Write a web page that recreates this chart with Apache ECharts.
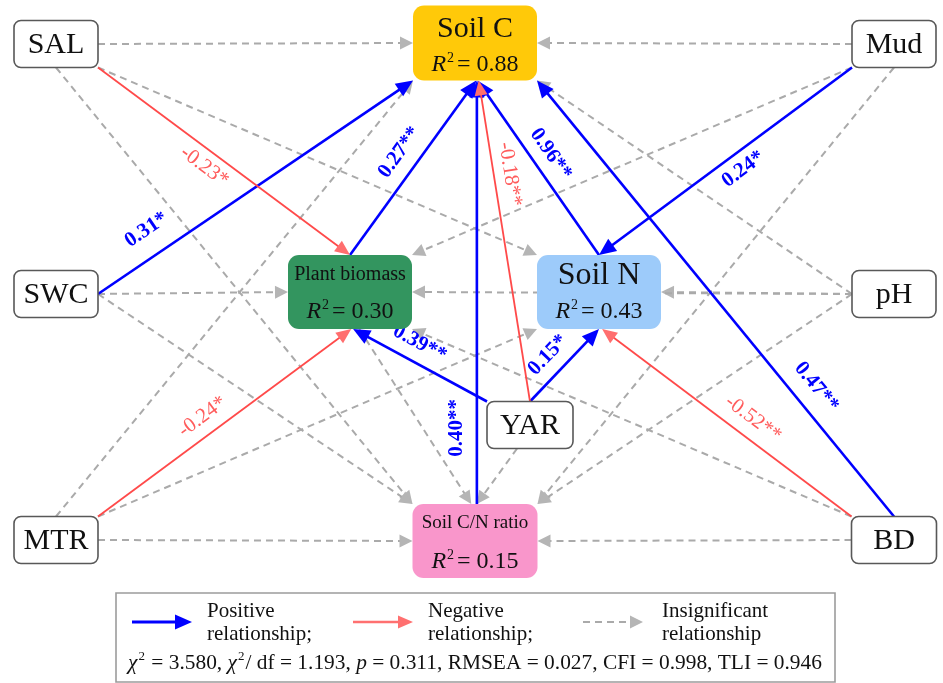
<!DOCTYPE html>
<html>
<head>
<meta charset="utf-8">
<script src="https://cdn.jsdelivr.net/npm/echarts@6/dist/echarts.min.js"></script>
<style>
  html, body { margin: 0; padding: 0; background: #ffffff; }
  #chart { width: 943px; height: 683px; }
</style>
</head>
<body>
<div id="chart"></div>
<script>
// ---- Path model data -------------------------------------------------------
// Observed drivers and response variables
const drivers = ['SAL', 'SWC', 'MTR', 'Mud', 'pH', 'BD', 'YAR'];
const responses = ['Soil C', 'Plant biomass', 'Soil N', 'Soil C/N ratio'];
const responseR2 = [0.88, 0.30, 0.43, 0.15];

// Paths: source, target, standardized coefficient (null = insignificant), stars
const pathFrom = [
  'SAL', 'Mud', 'SAL', 'SAL', 'SWC', 'SWC', 'MTR', 'MTR', 'MTR', 'Mud',
  'Mud', 'pH', 'pH', 'pH', 'pH', 'BD', 'BD', 'YAR', 'Plant biomass',
  'SWC', 'Plant biomass', 'Soil C/N ratio', 'Soil N', 'Mud', 'BD',
  'YAR', 'YAR', 'SAL', 'YAR', 'MTR', 'BD'
];
const pathTo = [
  'Soil C', 'Soil C', 'Soil N', 'Soil C/N ratio', 'Plant biomass', 'Soil C/N ratio',
  'Soil C/N ratio', 'Soil C', 'Soil N', 'Plant biomass', 'Soil C/N ratio', 'Soil N',
  'Plant biomass', 'Soil C', 'Soil C/N ratio', 'Soil C/N ratio', 'Plant biomass',
  'Soil C/N ratio', 'Soil C/N ratio',
  'Soil C', 'Soil C', 'Soil C', 'Soil C', 'Soil N', 'Soil C',
  'Plant biomass', 'Soil N', 'Plant biomass', 'Soil C', 'Plant biomass', 'Soil N'
];
const pathCoef = [
  null, null, null, null, null, null, null, null, null, null,
  null, null, null, null, null, null, null, null, null,
  0.31, 0.27, 0.40, 0.96, 0.24, 0.47,
  0.39, 0.15, -0.23, -0.18, -0.24, -0.52
];
const pathStars = [
  '', '', '', '', '', '', '', '', '', '',
  '', '', '', '', '', '', '', '', '',
  '*', '**', '**', '**', '*', '**',
  '**', '*', '*', '**', '*', '**'
];

// Model fit statistics
const fitNames = ['χ2', 'χ2/ df', 'p', 'RMSEA', 'CFI', 'TLI'];
const fitValues = ['3.580', '1.193', '0.311', '0.027', '0.998', '0.946'];

// Legend entries
const legendKinds = ['pos', 'neg', 'ns'];
const legendLines = [
  ['Positive', 'relationship;'],
  ['Negative', 'relationship;'],
  ['Insignificant', 'relationship']
];

// ---- Layout & styles --------------------------------------------------------
const SERIF = '"Liberation Serif", "Times New Roman", Times, serif';

// Box centres and sizes in diagram units
const nodeBoxes = {
  'SAL': { x: 56, y: 44, w: 84, h: 47 },
  'Mud': { x: 894, y: 44, w: 84, h: 47 },
  'SWC': { x: 56, y: 294, w: 84, h: 47 },
  'pH': { x: 894, y: 294, w: 84, h: 47 },
  'MTR': { x: 56, y: 540, w: 84, h: 47 },
  'BD': { x: 894, y: 540, w: 85, h: 47 },
  'YAR': { x: 530, y: 425, w: 86, h: 47 },
  'Soil C': { x: 475, y: 43, w: 124, h: 75 },
  'Plant biomass': { x: 350, y: 292, w: 124, h: 74 },
  'Soil N': { x: 599, y: 292, w: 124, h: 74 },
  'Soil C/N ratio': { x: 475, y: 541, w: 125, h: 74 }
};

const responseStyle = {
  'Soil C': { fill: '#FFC909', titleSize: 30, titleDy: -14, r2Dy: 22 },
  'Plant biomass': { fill: '#33955F', titleSize: 20, titleDy: -17, r2Dy: 20 },
  'Soil N': { fill: '#9DCBFA', titleSize: 32, titleDy: -16, r2Dy: 20 },
  'Soil C/N ratio': { fill: '#F996CB', titleSize: 19, titleDy: -18, r2Dy: 21 }
};

// Attachment points on each box: [source, target] as fractions of half-size
const pathAnchors = [
  [[1, 0], [-1, 0]], [[-1, 0], [1, 0]], [[1, 1], [-1, -1]], [[0, 1], [-1, -1]],
  [[1, 0], [-1, 0]], [[1, 0], [-1, -1]], [[1, 0], [-1, 0]], [[0, -1], [-1, 1]],
  [[1, -1], [-1, 1]], [[-1, 1], [1, -1]], [[0, 1], [1, -1]], [[-1, 0], [1, 0]],
  [[-1, 0], [1, 0]], [[-1, 0], [1, 1]], [[-1, 0], [1, -1]], [[-1, 0], [1, 0]],
  [[-1, -1], [1, 1]], [[-0.3, 1], [0.03, -1]], [[0.15, 1], [-0.06, -1]],
  [[1, 0], [-1, 1]], [[0, -1], [0.02, 1]], [[0.03, -1], [0.03, 1]], [[0, -1], [0.04, 1]],
  [[-1, 1], [0, -1]], [[0, -1], [1, 1]], [[-1, -1], [0.05, 1]], [[0, -1], [0, 1]],
  [[1, 1], [0, -1]], [[0, -1], [0.06, 1]], [[1, -1], [0.02, 1]], [[-1, -1], [0.05, 1]]
];

// Coefficient label placement: [fraction along path from source, normal offset px]
const labelPlacement = {
  19: [0.2, -26], 20: [0.52, -20], 21: [0.18, -20], 22: [0.52, -18],
  23: [0.47, 17], 24: [0.265, -22], 25: [0.57, -19], 26: [0.46, -19],
  27: [0.46, 16], 28: [0.70, -16], 29: [0.455, -18], 30: [0.44, -19]
};

const pathStyle = {
  pos: { color: '#0000FF', head: '#0000FF', width: 2.6, dash: null, headLen: 17, headW: 7.5,
         label: '#0000FF', weight: 'bold' },
  neg: { color: '#FF4A4A', head: '#FF6E6E', width: 1.8, dash: null, headLen: 15, headW: 6.5,
         label: '#FF5C5C', weight: 'normal' },
  ns:  { color: '#AAAAAA', head: '#B5B5B5', width: 2, dash: [7, 5], headLen: 13, headW: 6.5 }
};

function kindOf(coef) {
  return coef == null ? 'ns' : (coef > 0 ? 'pos' : 'neg');
}

function anchorPoint(name, a) {
  const b = nodeBoxes[name];
  return [b.x + a[0] * b.w / 2, b.y + a[1] * b.h / 2];
}

function arrowShapes(p0, p1, st) {
  const dx = p1[0] - p0[0], dy = p1[1] - p0[1];
  const len = Math.hypot(dx, dy);
  const ux = dx / len, uy = dy / len;
  const bx = p1[0] - ux * st.headLen, by = p1[1] - uy * st.headLen;
  const nx = -uy, ny = ux;
  return [
    {
      type: 'line',
      shape: { x1: p0[0], y1: p0[1], x2: bx + ux * 2, y2: by + uy * 2 },
      style: { stroke: st.color, lineWidth: st.width, lineDash: st.dash || null, fill: null }
    },
    {
      type: 'polygon',
      shape: { points: [[p1[0], p1[1]], [bx + nx * st.headW, by + ny * st.headW], [bx - nx * st.headW, by - ny * st.headW]] },
      style: { fill: st.head }
    }
  ];
}

function renderPath(params, api) {
  const i = params.dataIndex;
  const an = pathAnchors[i];
  const p0 = api.coord(anchorPoint(pathFrom[i], an[0]));
  const p1 = api.coord(anchorPoint(pathTo[i], an[1]));
  const coef = pathCoef[i];
  const st = pathStyle[kindOf(coef)];
  const children = arrowShapes(p0, p1, st);
  if (coef != null) {
    const lp = labelPlacement[i];
    const dx = p1[0] - p0[0], dy = p1[1] - p0[1];
    // keep the label readable: near-vertical paths read bottom-to-top
    let ang = Math.atan2(dy, dx);
    if (ang >= Math.PI / 2 - 0.05) ang -= Math.PI;
    else if (ang < -Math.PI / 2 - 0.05) ang += Math.PI;
    const nx = -Math.sin(ang), ny = Math.cos(ang);
    children.push({
      type: 'text',
      x: p0[0] + dx * lp[0] + nx * lp[1],
      y: p0[1] + dy * lp[0] + ny * lp[1],
      rotation: -ang,
      style: {
        text: coef.toFixed(2) + pathStars[i],
        fill: st.label,
        font: st.weight + ' 21px ' + SERIF,
        align: 'center',
        verticalAlign: 'middle'
      }
    });
  }
  return { type: 'group', children: children };
}

function r2Rich(value, size) {
  const sup = Math.round(size * 0.6);
  return {
    text: '{r|R}{s|2}{v|= ' + value.toFixed(2) + '}',
    rich: {
      r: { font: 'italic ' + size + 'px ' + SERIF, lineHeight: size + 4, fill: '#111' },
      s: { font: sup + 'px ' + SERIF, lineHeight: sup + 2, verticalAlign: 'top', padding: [0, 3, 0, 1], fill: '#111' },
      v: { font: size + 'px ' + SERIF, lineHeight: size + 4, fill: '#111' }
    }
  };
}

const nodeNames = drivers.concat(responses);

function renderNode(params, api) {
  const name = nodeNames[params.dataIndex];
  const b = nodeBoxes[name];
  const c = api.coord([b.x, b.y]);
  const tl = api.coord([b.x - b.w / 2, b.y - b.h / 2]);
  const br = api.coord([b.x + b.w / 2, b.y + b.h / 2]);
  const w = br[0] - tl[0], h = br[1] - tl[1];
  const ri = responses.indexOf(name);
  const children = [];
  if (ri < 0) {
    children.push({
      type: 'rect',
      shape: { x: tl[0], y: tl[1], width: w, height: h, r: 7 },
      style: { fill: '#ffffff', stroke: '#585858', lineWidth: 1.6 }
    });
    children.push({
      type: 'text', x: c[0], y: c[1] + 1,
      style: { text: name, font: '30px ' + SERIF, fill: '#111', align: 'center', verticalAlign: 'middle' }
    });
  } else {
    const rs = responseStyle[name];
    children.push({
      type: 'rect',
      shape: { x: tl[0], y: tl[1], width: w, height: h, r: 11 },
      style: { fill: rs.fill, stroke: null }
    });
    children.push({
      type: 'text', x: c[0], y: c[1] + rs.titleDy,
      style: { text: name, font: rs.titleSize + 'px ' + SERIF, fill: '#111', align: 'center', verticalAlign: 'middle' }
    });
    const rt = r2Rich(responseR2[ri], 24);
    children.push({
      type: 'text', x: c[0], y: c[1] + rs.r2Dy,
      style: { text: rt.text, rich: rt.rich, fill: '#111', font: '24px ' + SERIF, align: 'center', verticalAlign: 'middle' }
    });
  }
  return { type: 'group', children: children };
}

// ---- Legend & fit statistics (graphic layer) --------------------------------
function legendGraphics() {
  const els = [{
    type: 'rect', shape: { x: 116, y: 593, width: 719, height: 89 },
    style: { fill: '#ffffff', stroke: '#9C9C9C', lineWidth: 1.6 }, z: 10
  }];
  const arrowX = [132, 353, 583];
  const textX = [207, 428, 662];
  legendKinds.forEach(function (k, i) {
    const st = Object.assign({}, pathStyle[k]);
    if (k === 'neg') { st.color = '#FF7070'; st.head = '#FF7070'; st.width = 2.6; }
    if (k === 'pos') { st.width = 3; }
    arrowShapes([arrowX[i], 622], [arrowX[i] + 60, 622], st).forEach(function (s) {
      s.z = 11; els.push(s);
    });
    legendLines[i].forEach(function (line, j) {
      els.push({
        type: 'text', x: textX[i], y: 611 + j * 23, z: 11,
        style: { text: line, font: '21px ' + SERIF, fill: '#111', align: 'left', verticalAlign: 'middle' }
      });
    });
  });
  // Fit statistics line
  const parts = fitNames.map(function (n, i) {
    let head;
    if (n === 'χ2') head = '{i|χ}{s|2}{n| = ';
    else if (n === 'χ2/ df') head = '{i|χ}{s|2}{n|/ df = ';
    else if (n === 'p') head = '{i|p}{n| = ';
    else head = '{n|' + n + ' = ';
    return head + fitValues[i] + (i < fitNames.length - 1 ? ', ' : '') + '}';
  });
  els.push({
    type: 'text', x: 475, y: 663, z: 11,
    style: {
      text: parts.join(''),
      align: 'center', verticalAlign: 'middle', fill: '#111', font: '21px ' + SERIF,
      rich: {
        i: { font: 'italic 21.4px ' + SERIF, lineHeight: 25, fill: '#111' },
        s: { font: '13px ' + SERIF, lineHeight: 14, verticalAlign: 'top', padding: [0, 1, 0, 1], fill: '#111' },
        n: { font: '21.4px ' + SERIF, lineHeight: 25, fill: '#111' }
      }
    }
  });
  return els;
}

// ---- Chart ----------------------------------------------------------------
const chart = echarts.init(document.getElementById('chart'), null, { renderer: 'canvas' });
chart.setOption({
  backgroundColor: '#ffffff',
  animation: false,
  grid: { left: 0, right: 0, top: 0, bottom: 0 },
  xAxis: { type: 'value', min: 0, max: 943, show: false },
  yAxis: { type: 'value', min: 0, max: 683, inverse: true, show: false },
  series: [
    {
      name: 'paths',
      type: 'custom',
      coordinateSystem: 'cartesian2d',
      clip: false,
      z: 2,
      silent: true,
      renderItem: renderPath,
      data: pathFrom.map(function (f) { return [nodeBoxes[f].x, nodeBoxes[f].y]; })
    },
    {
      name: 'variables',
      type: 'custom',
      coordinateSystem: 'cartesian2d',
      clip: false,
      z: 3,
      silent: true,
      renderItem: renderNode,
      data: nodeNames.map(function (n) { return [nodeBoxes[n].x, nodeBoxes[n].y]; })
    }
  ],
  graphic: legendGraphics()
});
</script>
</body>
</html>
